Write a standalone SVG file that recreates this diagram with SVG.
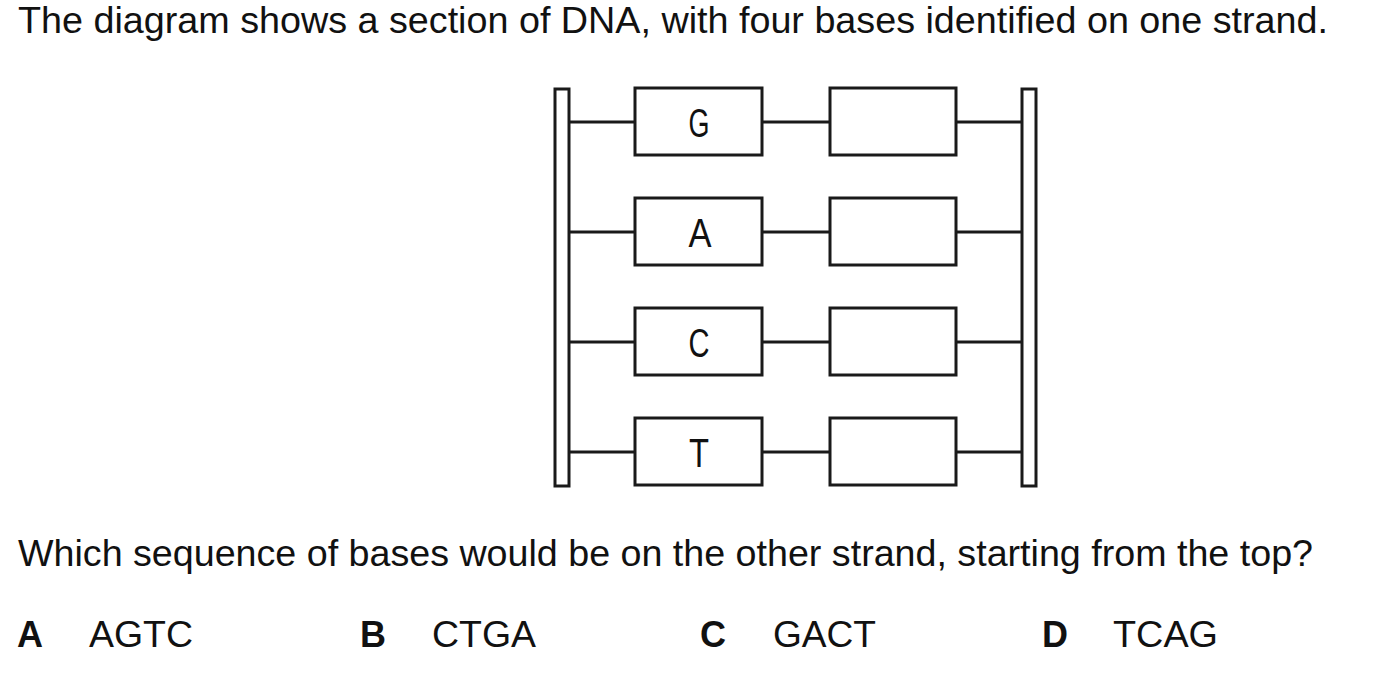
<svg xmlns="http://www.w3.org/2000/svg" width="1376" height="678" viewBox="0 0 1376 678">
<style>
.txt{font-family:"Liberation Sans",Arial,sans-serif;font-size:36px;fill:#111}
.bold{font-weight:bold}
.base{font-family:"Liberation Sans",Arial,sans-serif;font-size:40px;fill:#111;text-anchor:middle}
.box{fill:#fff;stroke:#1a1a1a;stroke-width:3}
.bb{fill:#fff;stroke:#1a1a1a;stroke-width:3}
.ln{stroke:#1a1a1a;stroke-width:3;fill:none}
</style>
<rect width="1376" height="678" fill="#fff"/>
<text class="txt" x="18" y="33" textLength="1310" lengthAdjust="spacingAndGlyphs">The diagram shows a section of DNA, with four bases identified on one strand.</text>
<g id="connectors">
<path class="ln" d="M569 122H635M762 122H829M957 122H1022M569 232H635M762 232H829M957 232H1022M569 342H635M762 342H829M957 342H1022M569 452H635M762 452H829M957 452H1022"/>
</g>
<g id="backbone-left"><rect class="bb" x="555" y="89" width="14" height="397"/></g>
<g id="backbone-right"><rect class="bb" x="1022" y="89" width="14" height="397"/></g>
<g id="base-G"><rect class="box" x="635" y="88" width="127" height="67"/><text class="base" x="699" y="137" textLength="21" lengthAdjust="spacingAndGlyphs">G</text></g>
<g id="base-A"><rect class="box" x="635" y="198" width="127" height="67"/><text class="base" x="700" y="247" textLength="23" lengthAdjust="spacingAndGlyphs">A</text></g>
<g id="base-C"><rect class="box" x="635" y="308" width="127" height="67"/><text class="base" x="699" y="357" textLength="21" lengthAdjust="spacingAndGlyphs">C</text></g>
<g id="base-T"><rect class="box" x="635" y="418" width="127" height="67"/><text class="base" x="699" y="467" textLength="20" lengthAdjust="spacingAndGlyphs">T</text></g>
<g id="pair-1"><rect class="box" x="830" y="88" width="126" height="67"/></g>
<g id="pair-2"><rect class="box" x="830" y="198" width="126" height="67"/></g>
<g id="pair-3"><rect class="box" x="830" y="308" width="126" height="67"/></g>
<g id="pair-4"><rect class="box" x="830" y="418" width="126" height="67"/></g>
<text class="txt" x="18" y="566" textLength="1295" lengthAdjust="spacingAndGlyphs">Which sequence of bases would be on the other strand, starting from the top?</text>
<text class="txt bold" x="17" y="647">A</text><text class="txt" x="89" y="647" textLength="104" lengthAdjust="spacingAndGlyphs">AGTC</text>
<text class="txt bold" x="360" y="647">B</text><text class="txt" x="432" y="647" textLength="104" lengthAdjust="spacingAndGlyphs">CTGA</text>
<text class="txt bold" x="700" y="647">C</text><text class="txt" x="773" y="647" textLength="103" lengthAdjust="spacingAndGlyphs">GACT</text>
<text class="txt bold" x="1042" y="647">D</text><text class="txt" x="1113" y="647" textLength="105" lengthAdjust="spacingAndGlyphs">TCAG</text>
</svg>
